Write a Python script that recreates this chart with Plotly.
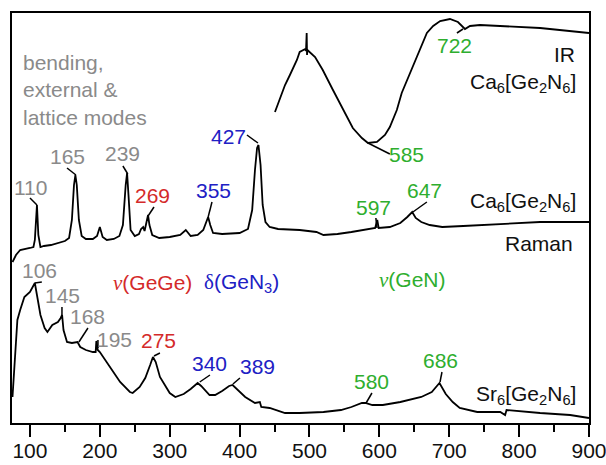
import plotly.graph_objects as go

# ---------------- data (wavenumber cm^-1, intensity arb. units) ----------------
ir_x = [450.6, 465, 472, 482, 486, 494, 495, 496, 496.5, 497, 508, 519, 533.6, 548, 562,
        575, 583.7, 596.6, 608, 615, 625, 632, 644, 658, 668, 677, 687, 701, 712.5,
        722.5, 729.7, 744, 773, 830, 900]
ir_y = [311, 338, 348, 363, 371, 374, 372, 390, 368, 373, 366, 353, 333, 313, 295,
        285, 280, 281, 288, 296, 313, 330, 350, 373, 390, 397, 402, 404, 401,
        394, 397, 398, 397, 395, 390]

ca_x = [75, 80, 86, 95, 100, 105, 107, 110, 112, 115, 120, 130, 140, 150, 156, 160, 163, 165,
        167, 170, 174, 180, 190, 196, 200, 204, 210, 220, 228, 233, 237, 239, 241, 244, 250,
        256, 259, 262, 264, 267, 269, 271, 275, 285, 300, 315, 323, 330, 340, 348, 352, 355,
        358, 362, 375, 400, 412, 418, 422, 425, 427, 430, 433, 437, 443, 455, 486, 510, 520,
        540, 560, 580, 594, 597, 599, 615, 630, 640, 647, 652, 660, 672, 690, 720, 775, 830, 900]
ca_y = [161, 168, 173, 174, 175, 176, 183, 218, 188, 176, 177, 178, 180, 182, 185, 203, 238, 248,
        238, 203, 187, 184, 184, 187, 196, 186, 183, 184, 187, 198, 238, 250, 228, 193, 187,
        189, 194, 196, 192, 201, 208, 198, 188, 185, 186, 188, 193, 187, 188, 193, 201, 206,
        198, 190, 189, 190, 194, 213, 253, 275, 278, 258, 218, 201, 196, 194, 193, 191, 188,
        189, 191, 193, 195, 203, 195, 196, 200, 206, 211, 205, 201, 198, 196, 197, 199, 201, 201]

sr_x = [75, 78, 82, 86, 92, 100, 104, 107, 110, 115, 121, 125, 132, 140, 144, 146, 148, 153,
        160, 168, 172, 180, 190, 194, 195, 197, 200, 214, 229, 243, 247, 257, 265, 272, 276,
        280, 286, 300, 308, 320, 330, 340, 345, 357, 365, 375, 385, 390, 400, 408, 422, 429,
        431, 443, 465, 486, 520, 545, 560, 575, 580, 590, 605, 630, 660, 675, 686, 695, 705,
        715, 740, 773, 780, 782, 830, 873, 900]
sr_y = [26, 63, 103, 113, 126, 131, 137, 140, 128, 108, 95, 91, 98, 101, 105, 108, 93, 81,
        80, 81, 76, 73, 71, 71, 82, 73, 71, 56, 41, 31, 30, 36, 45, 58, 66,
        61, 46, 30, 26, 29, 34, 40, 37, 28, 28, 32, 37, 38, 31, 26, 20, 21,
        16, 15, 10, 10, 11, 13, 16, 20, 20, 18, 18, 21, 26, 31, 40, 29, 21,
        15, 11, 11, 8, 13, 10, 8, 5]

# peak labels: text, x, y, colour key, leader start x,y, leader end x,y
peak_text = ["110", "165", "239", "269", "355", "427", "585", "722", "597", "647",
             "106", "145", "168", "195", "275", "340", "389", "580", "686"]
peak_tx = [101.4, 153, 233, 276, 362, 383.4, 639.5, 708, 591, 665,
           114.3, 147, 183, 221.6, 284.6, 357.6, 426, 589.4, 686.8]
peak_ty = [236, 267, 270, 228, 233, 287, 269, 378, 216, 233,
           153, 128, 107, 84, 83, 60, 57, 42, 63]
peak_col = ["g", "g", "g", "r", "b", "b", "G", "G", "G", "G",
            "g", "g", "g", "g", "r", "b", "b", "G", "G"]
lead_x0 = [100, 153, 233, 277.5, 360.5, 410.5, 615, 711, 595, 668,
           107, 145.8, 183, 197.3, 286, 357.6, 400.5, 589.4, 689.6]
lead_y0 = [225, 255, 257, 216, 221, 288, 269, 390, 205, 221,
           140, 116, 95, 83, 70, 48, 45, 30, 51]
lead_x1 = [110, 165.8, 240, 269, 355, 426.3, 583.7, 719.7, 596.6, 648,
           117, 145.8, 170, 197.3, 277.5, 343, 390.5, 581, 686.8]
lead_y1 = [218, 248, 249, 207, 206, 280, 280, 394, 195, 211,
           141, 106, 81, 75, 67, 41, 39, 20, 41]

colors = {"g": "#8a8a8a", "r": "#d42a2a", "b": "#2020c4", "G": "#2eae2e", "k": "#111111"}

FONT = "Arial, Liberation Sans, sans-serif"
SERIF = "Times New Roman, Liberation Serif, DejaVu Serif, serif"
FS = 21

fig = go.Figure()
for xs, ys in [(ir_x, ir_y), (ca_x, ca_y), (sr_x, sr_y)]:
    fig.add_trace(go.Scatter(x=xs, y=ys, mode="lines",
                             line=dict(color="black", width=1.8), showlegend=False,
                             hoverinfo="skip"))

annotations = []
shapes = []
for t, x, y, c, x0, y0, x1, y1 in zip(peak_text, peak_tx, peak_ty, peak_col,
                                        lead_x0, lead_y0, lead_x1, lead_y1):
    annotations.append(dict(x=x, y=y, text=t, showarrow=False, xanchor="center", yanchor="middle",
                            font=dict(family=FONT, size=FS, color=colors[c])))
    shapes.append(dict(type="line", x0=x0, y0=y0, x1=x1, y1=y1, xref="x", yref="y",
                       line=dict(color="black", width=1.5)))

nu = '<span style="font-family:%s"><i>ν</i></span>' % SERIF
delta = '<span style="font-family:%s">δ</span>' % SERIF

other = [
    ("bending,<br>external &amp;<br>lattice modes", 87.1, 333, "left", colors["g"]),
    ("IR", 882.8, 369, "right", colors["k"]),
    ("Ca<sub>6</sub>[Ge<sub>2</sub>N<sub>6</sub>]", 884, 340, "right", colors["k"]),
    ("Ca<sub>6</sub>[Ge<sub>2</sub>N<sub>6</sub>]", 884, 221, "right", colors["k"]),
    ("Raman", 880, 180, "right", colors["k"]),
    ("Sr<sub>6</sub>[Ge<sub>2</sub>N<sub>6</sub>]", 884, 28, "right", colors["k"]),
    (nu + "(GeGe)", 276, 140, "center", colors["r"]),
    (delta + "(GeN<sub>3</sub>)", 403.4, 140, "center", colors["b"]),
    (nu + "(GeN)", 648, 143, "center", colors["G"]),
]
for t, x, y, xa, c in other:
    annotations.append(dict(x=x, y=y, text=t, showarrow=False, xanchor=xa, yanchor="middle",
                            align=xa if xa != "center" else "center",
                            font=dict(family=FONT, size=FS, color=c)))

fig.update_layout(
    width=606, height=465,
    margin=dict(l=12, r=17, t=13, b=42, autoexpand=False),
    paper_bgcolor="white", plot_bgcolor="white",
    annotations=annotations, shapes=shapes,
    xaxis=dict(range=[74.3, 900], tickvals=[100, 200, 300, 400, 500, 600, 700, 800, 900],
               ticks="outside", ticklen=12, tickwidth=1.5, tickcolor="black",
               minor=dict(dtick=50, tick0=50, ticks="outside", ticklen=7, tickwidth=1.5,
                          tickcolor="black"),
               showline=True, linecolor="black", linewidth=2, mirror=True,
               showgrid=False, zeroline=False, automargin=False,
               ticklabeloverflow="allow", ticklabelstandoff=-4,
               tickfont=dict(family=FONT, size=FS, color="#111111")),
    yaxis=dict(range=[0, 410], showticklabels=False, ticks="", showgrid=False, zeroline=False,
               showline=True, linecolor="black", linewidth=2, mirror=True, automargin=False),
)

fig.write_html("out.html", config={"displayModeBar": False},
               post_script="document.body.style.margin='0';document.body.style.overflow='hidden';")
